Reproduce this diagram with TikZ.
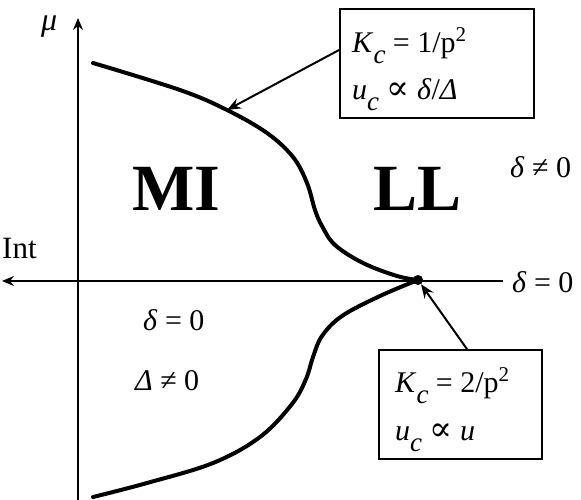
\documentclass[tikz,border=0pt]{standalone}
\usepackage{fontspec}
\setmainfont{Liberation Serif}
\newfontfamily\djv{DejaVu Serif}
\usetikzlibrary{arrows.meta,calc}
\newcommand{\fsz}[1]{\fontsize{#1}{#1}\selectfont}
\newcommand{\mysub}[1]{\raisebox{-11pt}{\fsz{27}\itshape #1}}
\newcommand{\mysup}[1]{\raisebox{11pt}{\fsz{21}#1}}
\newcommand{\prop}{{\djv\fsz{34}∝}}
\begin{document}
\begin{tikzpicture}[x=1pt,y=-1pt,
  txt/.style={inner sep=0pt, anchor=base west, font=\fsz{30}},
  big/.style={inner sep=0pt, anchor=base west, font=\fsz{66}\bfseries},
  axis/.style={line width=1.3pt, -{Stealth[length=12pt,width=10pt,inset=4pt]}},
  curve/.style={line width=4pt, line cap=round},
  box/.style={draw, line width=1.8pt, inner sep=0pt},
  ptr/.style={line width=2pt, -{Stealth[length=14pt,width=11pt,inset=5pt]}}]
\useasboundingbox (0,0) rectangle (581,500);
% axes
\coordinate (ybot) at (78,500);
\coordinate (ytop) at (78,18);
\coordinate (xr) at (503,281);
\coordinate (xl) at (2,281);
\draw[axis] (ybot) -- (ytop);
\draw[axis] (xr) -- (xl);
% curves
\draw[curve] plot[smooth, tension=0.6] coordinates {(93,63) (180,90) (227,110) (267,133) (293,157) (307,183) (315,210) (322,226) (335,245) (363,263) (397,276) (418,280)};
\draw[curve] plot[smooth, tension=0.6] coordinates {(418,280) (380,296) (342,316) (322,336) (313,357) (306,379) (292,404) (260,437) (213,463) (147,483) (93,497)};
\node[circle, fill, inner sep=0pt, minimum size=10pt] (d) at (418,280) {};
\coordinate (p1) at (227,110);
% labels
\node[inner sep=0pt, anchor=base west, font=\fsz{32}\itshape] (mu) at (41,31) {μ};
\node[txt, font=\fsz{31}] (int) at (2,258) {Int};
\node[big] (mi) at (132,210) {MI};
\node[big] (ll) at (373,210) {LL};
\node[txt] (dne) at (510,177) {\textit{δ} ≠ 0};
\node[txt] (deq) at (512,292) {\textit{δ} = 0};
\node[txt] (deq2) at (143,330) {\textit{δ} = 0};
\node[txt] (Dne) at (135,390) {\textit{Δ} ≠ 0};
% boxes
\node[box, minimum width=194pt, minimum height=109pt] (b1) at (437,63.5) {};
\node[txt] (b1a) at (352,53) {\textit{K}\mysub{c} = 1/p\mysup{2}};
\node[txt] (b1b) at (352,100) {\textit{u}\mysub{c} \prop{} \textit{δ}/\textit{Δ}};
\node[box, minimum width=163pt, minimum height=109pt] (b2) at (460.5,404.5) {};
\node[txt] (b2a) at (395,392) {\textit{K}\mysub{c} = 2/p\mysup{2}};
\node[txt] (b2b) at (395,440) {\textit{u}\mysub{c} \prop{} \textit{u}};
% pointers
\draw[ptr] ($(b1.west)+(0,-13.5)$) -- (p1);
\draw[ptr] ($(b2.north)+(6.5,0)$) -- (d);
\end{tikzpicture}
\end{document}
